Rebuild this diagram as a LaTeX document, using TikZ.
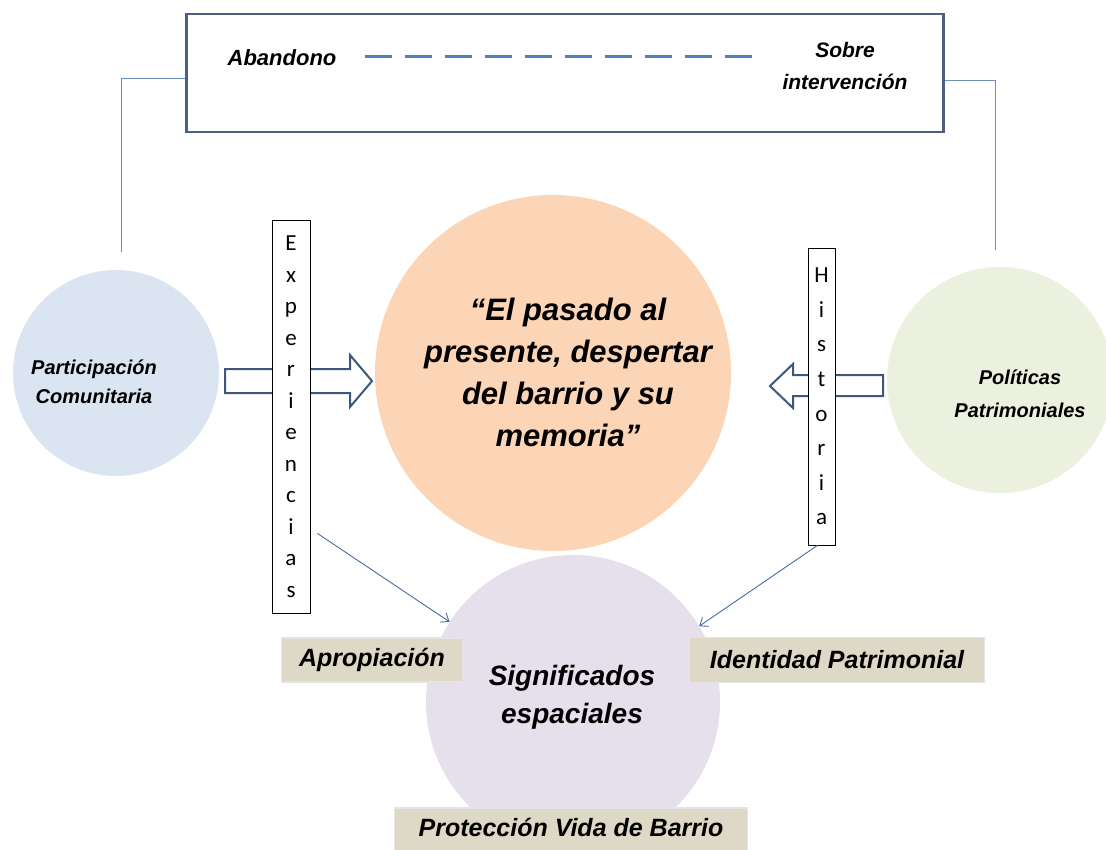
\documentclass[tikz,border=0pt]{standalone}
\usepackage{fontspec}
\setmainfont{Liberation Sans}
\newfontfamily\calib{Carlito}
\usetikzlibrary{arrows.meta}
\definecolor{boxline}{RGB}{74,96,128}
\definecolor{dashblue}{RGB}{79,129,189}
\definecolor{thinline}{RGB}{110,143,184}
\definecolor{cblue}{RGB}{219,229,241}
\definecolor{corange}{RGB}{251,213,181}
\definecolor{cgreen}{RGB}{235,241,222}
\definecolor{clav}{RGB}{229,224,236}
\definecolor{cbeige}{RGB}{221,217,198}
\definecolor{arrline}{RGB}{62,88,122}
\begin{document}
\begin{tikzpicture}[x=1pt,y=-1pt,
  disc/.style={circle, inner sep=0pt, draw=none},
  script/.style={font=\bfseries\itshape\fontsize{#1}{#1}\selectfont, align=center, inner sep=0pt},
  vbox/.style={draw=black, line width=0.8pt, fill=white, inner sep=0pt, align=center},
  tag/.style={fill=cbeige, draw=white!90!black, line width=1.5pt, inner sep=0pt,
    font=\bfseries\itshape\fontsize{25}{30}\selectfont},
  link/.style={draw=thinline, line width=0.9pt},
  thinarrow/.style={draw=dashblue!85!black, line width=0.9pt, -{Straight Barb[length=7pt,width=11pt]}},
  blockarrow/.style={draw=arrline, line width=2pt, fill=white, line join=miter}
]
\useasboundingbox (0,0) rectangle (1106,850);
\fill[white] (0,0) rectangle (1106,850);

% circles
\node[disc, fill=cblue, minimum size=206pt] (pc) at (116,373) {};
\node[disc, fill=cgreen, minimum size=226pt] (pp) at (1000,380) {};
\node[disc, fill=corange, minimum size=356pt] (mem) at (553,373) {};
\node[disc, fill=clav, minimum size=294pt] (sig) at (573,702) {};

% top box
\node[draw=boxline, line width=2.5pt, minimum width=757pt, minimum height=118pt, inner sep=0pt] (top) at (565,73) {};
\node[script=22] (aband) at (282,58) {Abandono};
\node[script=21, font=\bfseries\itshape\fontsize{21}{32}\selectfont] (sobre) at (845,66) {Sobre\\intervención};
\coordinate (dashL) at (365,57);
\coordinate (dashR) at (752,57);
\draw[dashblue, line width=3pt, dash pattern=on 27pt off 13pt] (dashL) -- (dashR);

% connectors to the top box
\draw[link] ([xshift=5pt,yshift=18pt]pc.north) |- ([yshift=-5pt]top.west);
\draw[link] ([yshift=-7pt]top.east) -| ([xshift=-5pt,yshift=17pt]pp.north);

% block arrows
\draw[blockarrow] (225,369) -- (350,369) -- (350,355) -- (372,381) -- (350,407) -- (350,393) -- (225,393) -- cycle;
\draw[blockarrow] (883,375) -- (793,375) -- (793,364) -- (770,386) -- (793,408) -- (793,396) -- (883,396) -- cycle;

% vertical word boxes
\node[vbox, minimum width=38pt, minimum height=393pt, font=\calib\fontsize{23}{31.5}\selectfont] (exp) at (291,416.5)
  {E\\x\\p\\e\\r\\i\\e\\n\\c\\i\\a\\s};
\node[vbox, minimum width=27pt, minimum height=297pt, font=\calib\fontsize{23}{34.6}\selectfont] (his) at (821.5,396.5)
  {H\\i\\s\\t\\o\\r\\i\\a};

% thin arrows
\draw[thinarrow] ([shift={(7pt,80pt)}]exp.south east) -- (sig.147);
\draw[thinarrow] ([xshift=-4pt]his.south) -- (sig.31);

% texts in circles
\node[script=20, font=\bfseries\itshape\fontsize{20}{29}\selectfont] (pctxt) at (94,382) {Participación\\Comunitaria};
\node[script=20, font=\bfseries\itshape\fontsize{20}{33}\selectfont] (pptxt) at (1020,394) {Políticas\\Patrimoniales};
\node[script=31, font=\bfseries\itshape\fontsize{31}{42}\selectfont] (memtxt) at (568,372)
  {“El pasado al\\presente, despertar\\del barrio y su\\memoria”};
\node[script=28, font=\bfseries\itshape\fontsize{28}{38}\selectfont] (sigtxt) at (572,697) {Significados\\espaciales};

% tags
\node[tag, minimum width=181pt, minimum height=44pt] (apro) at (372,660) {Apropiación};
\node[tag, minimum width=295pt, minimum height=45pt] (iden) at (837,660) {Identidad Patrimonial};
\node[tag, minimum width=353pt, minimum height=44pt] (prot) at (571,830) {\raisebox{6pt}{Protección Vida de Barrio}};
\end{tikzpicture}
\end{document}
